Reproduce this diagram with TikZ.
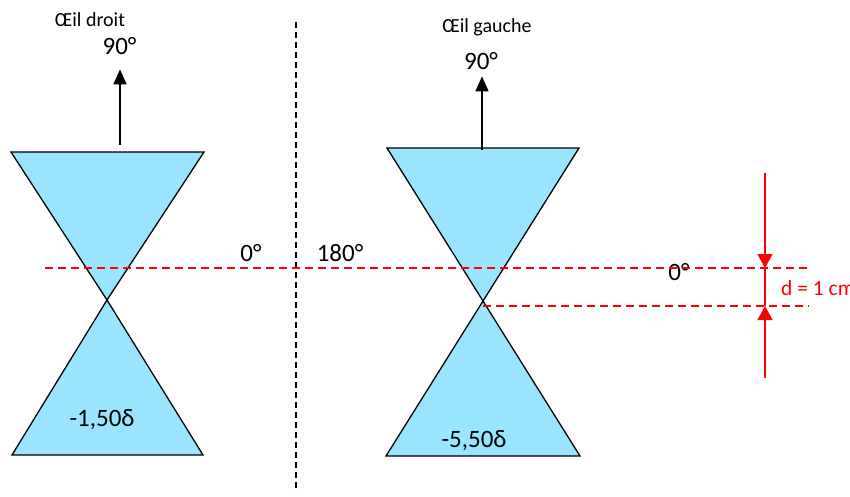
\documentclass[tikz,border=0pt]{standalone}
\usepackage{fontspec}
\setmainfont{Carlito}
\usetikzlibrary{arrows.meta,positioning,calc}
\definecolor{lentille}{RGB}{153,229,255}
\tikzset{
  cone/.style={draw,line width=1.3pt,fill=lentille,line join=miter},
  axe/.style={red,line width=1.5pt,dash pattern=on 8pt off 5pt},
  sep/.style={line width=1.6pt,dash pattern=on 6pt off 4pt},
  fl/.style={-{Triangle[length=15pt,width=13pt]},line width=1.5pt},
  cote/.style={-{Triangle[length=14pt,width=15pt]},red,line width=1.3pt},
  lbl/.style={font=\fontsize{20}{22}\selectfont,inner sep=0pt,anchor=base},
  deg/.style={font=\fontsize{25}{27}\selectfont,inner sep=0pt,anchor=base},
}
\begin{document}
\begin{tikzpicture}[x=1pt,y=-1pt]
 \useasboundingbox (0,0) rectangle (850,497);
 % oeil droit
 \coordinate (d1) at (11,152); \coordinate (d2) at (204,152); \coordinate (dO) at (107,300);
 \coordinate (d3) at (12,455); \coordinate (d4) at (203,455);
 \draw[cone] (d1) -- (d2) -- (dO) -- cycle;
 \draw[cone] (dO) -- (d4) -- (d3) -- cycle;
 \node[lbl] (titreD) at (90,27) {Œil droit};
 \node[deg] (hautD) at (119.5,55) {90°};
 \coordinate (baseD) at (120,145);
 \draw[fl,shorten >=14pt] (baseD) -- (baseD|-hautD.south);
 \node[deg] (valD) at (102,426) {-1,50δ};
 % oeil gauche
 \coordinate (g1) at (387,148); \coordinate (g2) at (579,148); \coordinate (gO) at (483,301);
 \coordinate (g3) at (386,456); \coordinate (g4) at (580,456);
 \draw[cone] (g1) -- (g2) -- (gO) -- cycle;
 \draw[cone] (gO) -- (g4) -- (g3) -- cycle;
 \node[lbl] (titreG) at (487,33) {Œil gauche};
 \node[deg] (hautG) at (481,70) {90°};
 \coordinate (baseG) at (482,150);
 \draw[fl,shorten >=6pt] (baseG) -- (baseG|-hautG.south);
 \node[deg] (valG) at (474,447) {-5,50δ};
 % separation et axes
 \coordinate (s1) at (296,22); \coordinate (s2) at (296,492);
 \draw[sep] (s1) -- (s2);
 \node[deg] (zeroD) at (251,261) {0°};
 \node[deg] (cent) at (340,261) {180°};
 \node[deg] (zeroG) at (679,280) {0°};
 \coordinate (a1) at (45,268); \coordinate (a2) at (809,268);
 \coordinate (b1) at (483,306); \coordinate (b2) at (809,306);
 \draw[axe] (a1) -- (a2);
 \draw[axe] (b1) -- (b2);
 % cote d
 \coordinate (c1) at (765,173); \coordinate (c2) at (765,378);
 \draw[cote] (c1) -- (c1|-a2);
 \draw[cote] (c2) -- (c2|-b2);
 \draw[red,line width=1.3pt] (c1|-a2) -- (c2|-b2);
 \node[lbl,anchor=base west,red,font=\fontsize{21.5}{23}\selectfont] (dist) at (781,295) {d = 1 cm};
\end{tikzpicture}
\end{document}
